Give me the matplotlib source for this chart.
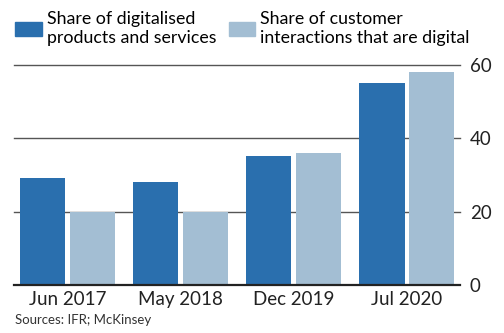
import numpy as np
import matplotlib.pyplot as plt
from matplotlib.patches import Patch

plt.rcParams['font.family'] = ['Lato', 'DejaVu Sans']

# data
periods = ["Jun 2017", "May 2018", "Dec 2019", "Jul 2020"]
digital_products = [29, 28, 35, 55]
digital_interactions = [20, 20, 36, 58]
label_products = "Share of digitalised\nproducts and services"
label_interactions = "Share of customer\ninteractions that are digital"

dark_blue = "#2a6fae"
light_blue = "#a3bed3"

fig = plt.figure(figsize=(5.04, 3.33), dpi=100)
ax = fig.add_axes([0.028, 0.144, 0.885, 0.662])

x = np.arange(len(periods))
w = 0.40
ax.bar(x - 0.22, digital_products, w, color=dark_blue, zorder=3)
ax.bar(x + 0.22, digital_interactions, w, color=light_blue, zorder=3)

ax.set_xlim(-0.47, 3.47)
ax.set_ylim(0, 60)
ax.set_yticks([0, 20, 40, 60])
ax.yaxis.tick_right()
ax.tick_params(axis='y', length=0, pad=7, labelsize=13.5, labelcolor="#222222")
ax.tick_params(axis='x', length=0, pad=4, labelsize=13.5, labelcolor="#222222")
ax.set_xticks(x)
ax.set_xticklabels(periods)

for yv in [20, 40, 60]:
    ax.axhline(yv, color="#555555", lw=1, zorder=1, clip_on=False)
ax.axhline(0, color="#222222", lw=1.6, zorder=4, clip_on=False)

for s in ax.spines.values():
    s.set_visible(False)

handles = [Patch(color=dark_blue), Patch(color=light_blue)]
fig.legend(handles, [label_products, label_interactions], ncol=2,
           loc="upper left", bbox_to_anchor=(15 / 504, 1 - 11 / 333), frameon=False,
           borderpad=0, borderaxespad=0,
           fontsize=12.8, handlelength=1.5, handleheight=0.85,
           handletextpad=0.28, columnspacing=0.7, labelspacing=0.15)

fig.text(0.03, 0.027, "Sources: IFR; McKinsey", fontsize=9.5, color="#333333")

fig.savefig("out.png", dpi=100)
